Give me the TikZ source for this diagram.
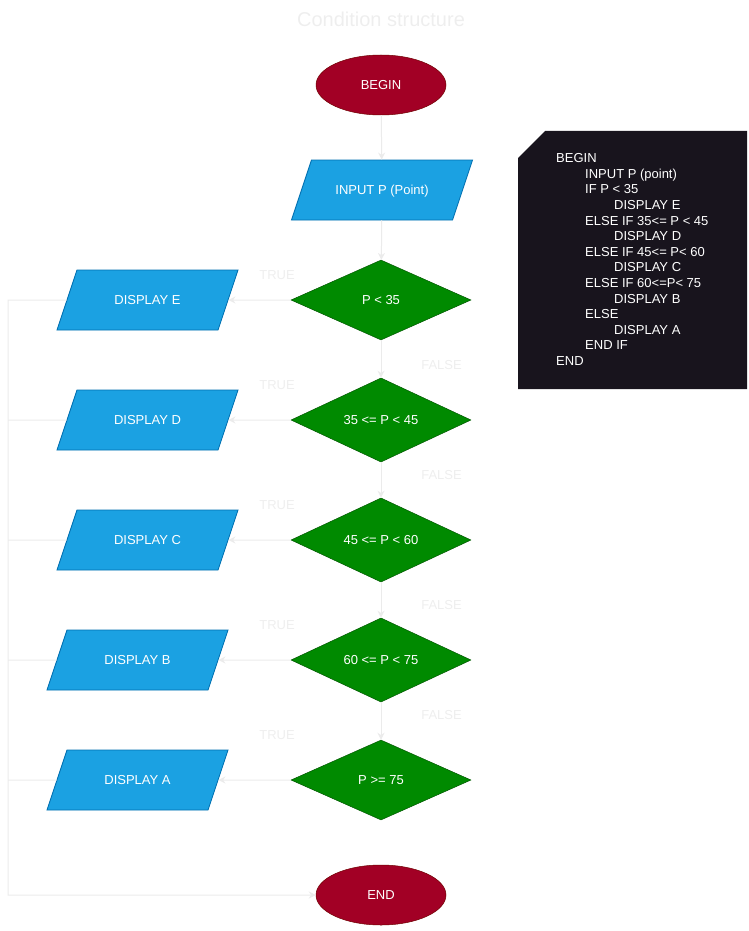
\documentclass[tikz,border=0pt]{standalone}
\usepackage{fontspec}
\setmainfont{Liberation Sans}
\usetikzlibrary{shapes.geometric,arrows.meta}

\definecolor{termfill}{HTML}{A20025}
\definecolor{termline}{HTML}{6F0000}
\definecolor{iofill}{HTML}{1BA1E2}
\definecolor{ioline}{HTML}{006EAF}
\definecolor{decfill}{HTML}{008A00}
\definecolor{decline}{HTML}{005700}
\definecolor{flow}{HTML}{EBEBEB}
\definecolor{codebg}{HTML}{18141D}
\definecolor{faint}{HTML}{EEEEEE}

\begin{document}
\begin{tikzpicture}[x=1pt,y=-1pt,
  every node/.style={font=\fontsize{13}{15.6}\selectfont, text height=9.3pt, text depth=0pt},
  terminal/.style={ellipse, fill=termfill, draw=termline, line width=0.5pt,
    minimum width=130pt, minimum height=60pt, inner sep=0pt, text=white},
  iobox/.style={trapezium, trapezium left angle=71.57, trapezium right angle=108.43,
    trapezium stretches body, fill=iofill, draw=ioline, line width=0.8pt,
    inner ysep=25.35pt, inner xsep=0pt, minimum width=181pt, text=white},
  decision/.style={diamond, fill=decfill, draw=decline, line width=0.5pt,
    minimum width=180pt, minimum height=80pt, inner sep=0pt, text=white},
  flowline/.style={draw=flow, line width=1pt, -{Stealth[length=7pt,width=7pt]}},
  plainline/.style={draw=flow, line width=1pt},
  branchlabel/.style={text=faint},
  codeline/.style={text=white, inner sep=0pt},
]
\useasboundingbox (0,0) rectangle (748,931);

% title
\node[text=faint, font=\fontsize{20}{24}\selectfont, text height=14.3pt] (title) at (381,19) {Condition structure};

% main column
\node[terminal] (begin) at (381,85) {BEGIN};
\node[iobox] (input) at (382,190) {INPUT P (Point)};
\node[decision] (c1) at (381,300) {P < 35};
\node[decision] (c2) at (381,420) {35 <= P < 45};
\node[decision] (c3) at (381,540) {45 <= P < 60};
\node[decision] (c4) at (381,660) {60 <= P < 75};
\node[decision] (c5) at (381,780) {P >= 75};
\node[terminal] (end) at (381,895) {END};

% outputs
\node[iobox] (dE) at (147.5,300) {DISPLAY E};
\node[iobox] (dD) at (147.5,420) {DISPLAY D};
\node[iobox] (dC) at (147.5,540) {DISPLAY C};
\node[iobox] (dB) at (137.5,660) {DISPLAY B};
\node[iobox] (dA) at (137.5,780) {DISPLAY A};

% return path along the left edge
\coordinate (loopTop) at (8,300);
\coordinate (loopBot) at (8,895);

% main flow
\draw[flowline] (begin) -- (input);
\draw[flowline] (input) -- (c1);
\draw[flowline] (c1) -- (c2);
\draw[flowline] (c2) -- (c3);
\draw[flowline] (c3) -- (c4);
\draw[flowline] (c4) -- (c5);

% true branches (ending on the slanted side)
\draw[flowline] (c1.west) -- (dE);
\draw[flowline] (c2.west) -- (dD);
\draw[flowline] (c3.west) -- (dC);
\draw[flowline] (c4.west) -- (dB);
\draw[flowline] (c5.west) -- (dA);

% outputs back to END
\draw[flowline] (dE) -- (loopTop) -- (loopBot) -- (end.west);
\draw[plainline] (dD) -- (dD -| loopTop);
\draw[plainline] (dC) -- (dC -| loopTop);
\draw[plainline] (dB) -- (dB -| loopTop);
\draw[plainline] (dA) -- (dA -| loopTop);

% branch labels
\node[branchlabel] (t1) at (277,275) {TRUE};
\node[branchlabel] (t2) at (277,385) {TRUE};
\node[branchlabel] (t3) at (277,505) {TRUE};
\node[branchlabel] (t4) at (277,625) {TRUE};
\node[branchlabel] (t5) at (277,735) {TRUE};
\node[branchlabel] (f1) at (441.5,365) {FALSE};
\node[branchlabel] (f2) at (441.5,475) {FALSE};
\node[branchlabel] (f3) at (441.5,605) {FALSE};
\node[branchlabel] (f4) at (441.5,715) {FALSE};

% pseudocode panel with a cut top-left corner
\fill[codebg] (518,158) -- (545,131) -- (747,131) -- (747,389) -- (518,389) -- cycle;
\foreach \lvl/\txt [count=\i from 0] in {
  0/BEGIN, 1/INPUT P (point), 1/IF P < 35, 2/DISPLAY E,
  1/ELSE IF 35<= P < 45, 2/DISPLAY D, 1/ELSE IF 45<= P< 60, 2/DISPLAY C,
  1/ELSE IF 60<=P< 75, 2/DISPLAY B, 1/ELSE, 2/DISPLAY A, 1/END IF, 0/END}
{
  \node[codeline, anchor=base west] (code\i) at ({556+29*\lvl},{162.6+15.6*\i}) {\txt};
}
\end{tikzpicture}
\end{document}
